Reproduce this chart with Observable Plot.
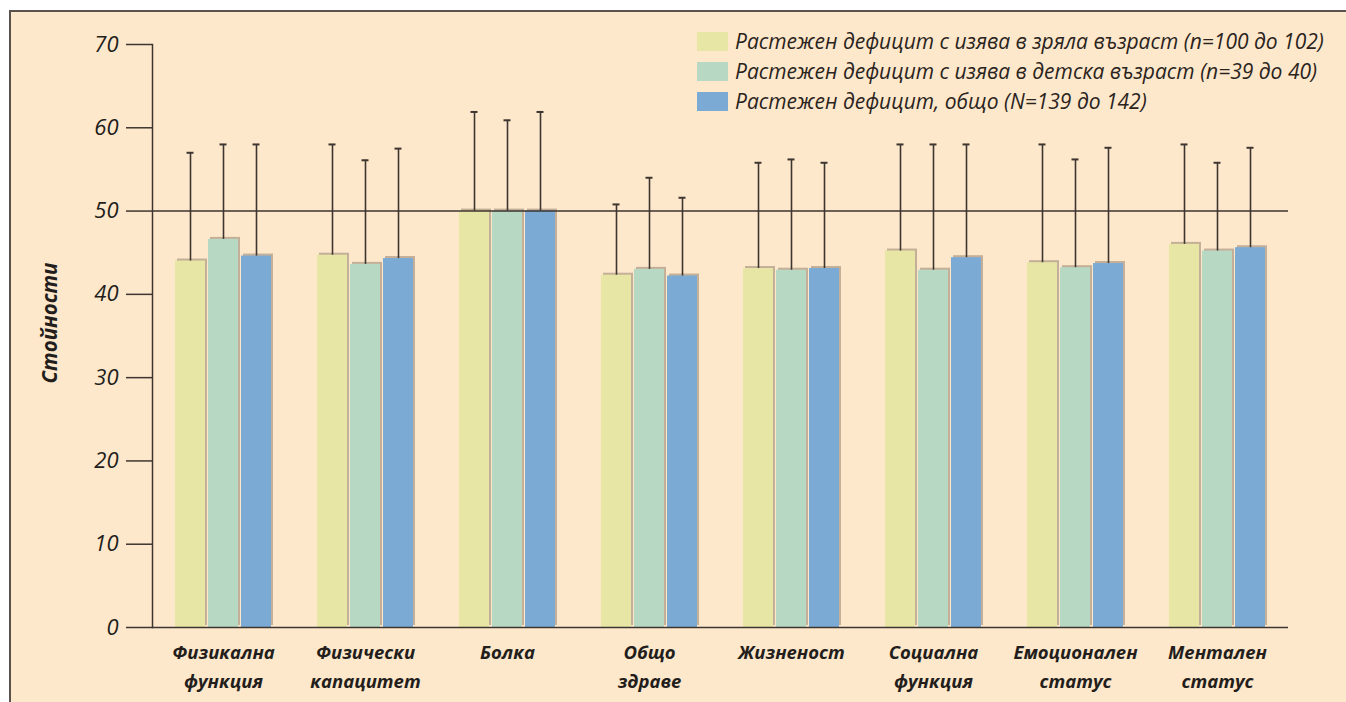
<!DOCTYPE html>
<html lang="bg">
<head>
<meta charset="utf-8">
<script src="https://cdn.jsdelivr.net/npm/d3@7"></script>
<script src="https://cdn.jsdelivr.net/npm/@observablehq/plot@0.6"></script>
<style>
  html, body { margin: 0; padding: 0; background: #ffffff; }
  #wrap { position: relative; width: 1346px; height: 702px; overflow: hidden; font-family: "Open Sans", sans-serif; }
  #frame { position: absolute; left: 9px; top: 10px; width: 1400px; height: 760px; border: 2px solid #5a524c; background: #fee8cc; }
  #chart { position: absolute; left: 0; top: 0; }
  #legend { position: absolute; left: 697px; top: 26px; font-style: italic; font-size: 21px; color: #2a2420; }
  .row { display: flex; align-items: center; height: 30px; }
  .sw { width: 31px; height: 19px; margin-right: 7px; flex: none; }
</style>
</head>
<body>
<div id="wrap">
  <div id="frame"></div>
  <div id="chart"></div>
  <div id="legend"></div>
</div>
<script>
const categories = ["Физикална\nфункция", "Физически\nкапацитет", "Болка", "Общо\nздраве", "Жизненост", "Социална\nфункция", "Емоционален\nстатус", "Ментален\nстатус"];
const seriesNames = [
  "Растежен дефицит с изява в зряла възраст (n=100 до 102)",
  "Растежен дефицит с изява в детска възраст (n=39 до 40)",
  "Растежен дефицит, общо (N=139 до 142)"
];
const seriesColors = ["#e8e6a5", "#b7d8c3", "#7babd5"];
const adultMeans = [44.0, 44.7, 50.0, 42.3, 43.1, 45.2, 43.8, 46.0];
const adultUpper = [57.0, 58.0, 61.9, 50.8, 55.8, 58.0, 58.0, 58.0];
const childMeans = [46.6, 43.6, 50.0, 43.0, 42.9, 42.9, 43.2, 45.2];
const childUpper = [58.0, 56.1, 60.9, 54.0, 56.2, 58.0, 56.2, 55.8];
const totalMeans = [44.6, 44.3, 50.0, 42.2, 43.1, 44.4, 43.7, 45.6];
const totalUpper = [58.0, 57.5, 61.9, 51.6, 55.8, 58.0, 57.6, 57.6];
const yTicks = [0, 10, 20, 30, 40, 50, 60, 70];
const refLines = [0, 50];
const yLabel = "Стойности";

const meansBySeries = [adultMeans, childMeans, totalMeans];
const upperBySeries = [adultUpper, childUpper, totalUpper];
const data = [];
categories.forEach((c, i) => {
  seriesNames.forEach((s, j) => {
    data.push({category: c, series: s, mean: meansBySeries[j][i], upper: upperBySeries[j][i]});
  });
});

const ink = "#3d3530";
const textInk = "#231e1b";

const chart = Plot.plot({
  width: 1346,
  height: 702,
  marginLeft: 150,
  marginRight: 56,
  marginTop: 44,
  marginBottom: 75,
  style: {background: "transparent", fontFamily: "Open Sans, sans-serif", color: textInk, overflow: "visible"},
  fx: {domain: categories, padding: 0, label: null},
  x: {domain: seriesNames, paddingInner: 0.09, paddingOuter: 0.69, axis: null},
  y: {domain: [0, 70], label: null},
  color: {domain: seriesNames, range: seriesColors},
  marks: [
    Plot.barY(data, {fx: "category", x: "series", y: "mean", fill: "#8a7764", fillOpacity: 0.5, dx: 2, dy: -2}),
    Plot.barY(data, {fx: "category", x: "series", y: "mean", fill: "series"}),
    Plot.ruleY(refLines, {stroke: ink, strokeWidth: 1.5}),
    Plot.ruleX(data, {fx: "category", x: "series", y1: "mean", y2: "upper", stroke: ink, strokeWidth: 1.6}),
    Plot.tickY(data, {fx: "category", x: "series", y: "upper", stroke: ink, strokeWidth: 2, insetLeft: 11.5, insetRight: 11.5}),
    Plot.frame({anchor: "left", facetAnchor: "left", stroke: ink, strokeWidth: 1.5}),
    Plot.axisY({ticks: yTicks, tickSize: 26, tickPadding: 8, fontSize: 22, fontStyle: "italic", fill: textInk, stroke: ink, strokeWidth: 1.5, label: null, facetAnchor: "left"}),
    Plot.axisFx({anchor: "bottom", tickSize: 0, tickPadding: 10, fontSize: 18.5, fontWeight: "bold", fontStyle: "italic", fill: textInk, lineHeight: 1.6, tickFormat: d => d, label: null}),
    Plot.text([yLabel], {text: d => d, frameAnchor: "left", textAnchor: "middle", rotate: -90, dx: -102, dy: -13, fontSize: 20.5, fontWeight: "bold", fontStyle: "italic", fill: textInk, facetAnchor: "left"})
  ]
});
document.getElementById("chart").appendChild(chart);

const legend = document.getElementById("legend");
seriesNames.forEach((s, j) => {
  const row = document.createElement("div");
  row.className = "row";
  const sw = document.createElement("div");
  sw.className = "sw";
  sw.style.background = seriesColors[j];
  const t = document.createElement("span");
  t.textContent = s;
  row.appendChild(sw);
  row.appendChild(t);
  legend.appendChild(row);
});
</script>
</body>
</html>
